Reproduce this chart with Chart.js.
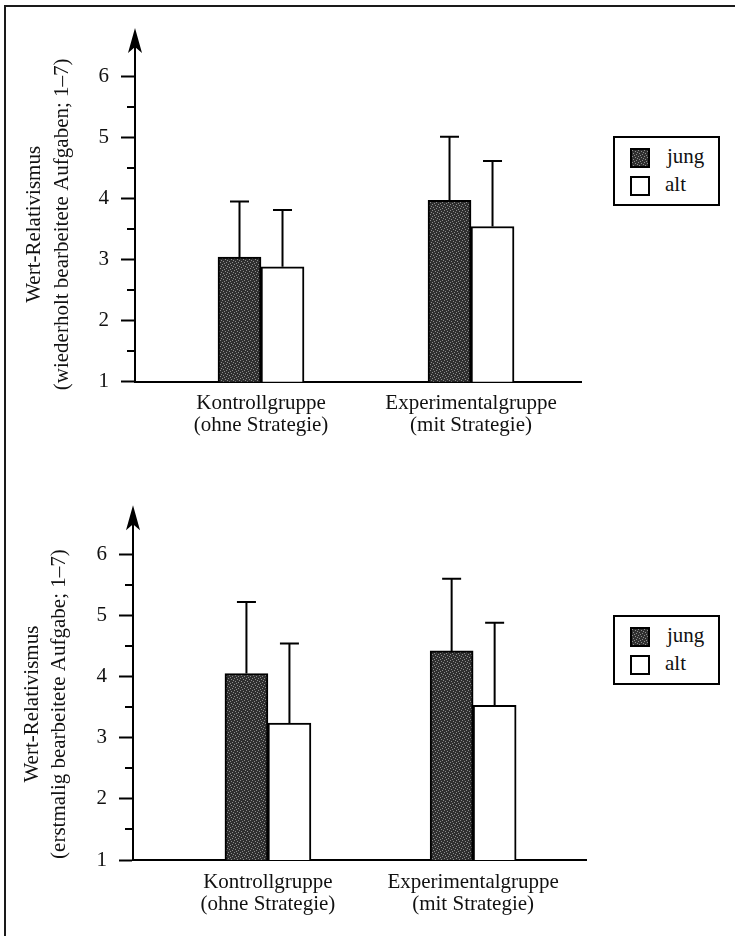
<!DOCTYPE html>
<html>
<head>
<meta charset="utf-8">
<script src="https://cdn.jsdelivr.net/npm/chart.js@4/dist/chart.umd.min.js"></script>
<style>
html,body{margin:0;padding:0;background:#fff;}
body{width:735px;height:936px;position:relative;overflow:hidden;font-family:"Liberation Serif","Times New Roman",serif;color:#111;}
#frame{position:absolute;left:4px;top:5px;width:760px;height:960px;border-left:2px solid #1a1a1a;border-top:2px solid #1a1a1a;}
.wrap{position:absolute;left:0;width:735px;height:468px;}
.wrap canvas{position:absolute;left:0;top:0;}
.legend{position:absolute;width:103px;height:66px;border:2px solid #000;background:#fff;}
.item{position:absolute;left:15px;height:20px;font-size:21px;line-height:20px;white-space:nowrap;}
.sw{position:absolute;left:0;top:0;width:16px;height:16px;border:2px solid #000;background:#fff;}
.lbl{position:absolute;top:-2px;}
</style>
</head>
<body>
<div id="frame"></div>
<div class="wrap" style="top:0px"><canvas id="c1" width="735" height="468"></canvas></div>
<div class="wrap" style="top:468px"><canvas id="c2" width="735" height="468"></canvas></div>
<div class="legend" id="leg1" style="left:613px;top:136px"></div>
<div class="legend" id="leg2" style="left:613px;top:615px"></div>
<script>
// ---------- data ----------
const categories = [["Kontrollgruppe", "(ohne Strategie)"], ["Experimentalgruppe", "(mit Strategie)"]];
const seriesNames = ["jung", "alt"];
const yTicks = [1, 2, 3, 4, 5, 6];
const yMinorTicks = [1.5, 2.5, 3.5, 4.5, 5.5];
const yTickLabels = ["1", "2", "3", "4", "5", "6"];

// Panel oben: wiederholt bearbeitete Aufgaben
const titleA = ["Wert-Relativismus", "(wiederholt bearbeitete Aufgaben; 1–7)"];
const jungA = [3.04, 3.97];
const altA = [2.88, 3.54];
const jungSdA = [0.91, 1.04];
const altSdA = [0.93, 1.07];

// Panel unten: erstmalig bearbeitete Aufgabe
const titleB = ["Wert-Relativismus", "(erstmalig bearbeitete Aufgabe; 1–7)"];
const jungB = [4.05, 4.42];
const altB = [3.24, 3.53];
const jungSdB = [1.17, 1.18];
const altSdB = [1.30, 1.35];

// ---------- styles ----------
function makePatternCanvas() {
  const c = document.createElement('canvas');
  c.width = 6; c.height = 6;
  const g = c.getContext('2d');
  g.fillStyle = '#2f2f2f'; g.fillRect(0, 0, 6, 6);
  g.fillStyle = '#8c8c8c';
  [[0,0],[3,1],[1,3],[4,4],[2,5],[5,2]].forEach(([x,y]) => g.fillRect(x, y, 1, 1));
  return c;
}
const patCanvas = makePatternCanvas();
const FONT = "'Liberation Serif','Times New Roman',serif";

const axisExtrasPlugin = {
  id: 'axisExtras',
  afterDatasetsDraw(chart) {
    const ctx = chart.ctx;
    const ys = chart.scales.y;
    // error bars (upward only)
    chart.data.datasets.forEach((ds, di) => {
      const meta = chart.getDatasetMeta(di);
      meta.data.forEach((el, i) => {
        const v = ds.data[i].y;
        const top = ys.getPixelForValue(v + ds.errors[i]);
        ctx.save();
        ctx.strokeStyle = '#000';
        ctx.lineWidth = 2;
        ctx.beginPath();
        ctx.moveTo(el.x, el.y);
        ctx.lineTo(el.x, top);
        ctx.moveTo(el.x - 9.5, top);
        ctx.lineTo(el.x + 9.5, top);
        ctx.stroke();
        ctx.restore();
      });
    });
  },
  afterDraw(chart, args, opts) {
    const ctx = chart.ctx;
    const ys = chart.scales.y;
    const a = chart.chartArea;
    const x = a.left;
    ctx.save();
    ctx.strokeStyle = '#000';
    ctx.fillStyle = '#000';
    ctx.lineWidth = 2;
    // minor ticks
    yMinorTicks.forEach(v => {
      const py = Math.round(ys.getPixelForValue(v));
      ctx.beginPath();
      ctx.moveTo(x - 8, py);
      ctx.lineTo(x, py);
      ctx.stroke();
    });
    // axis extension + arrow head
    const tip = a.top - opts.arrowLen;
    ctx.beginPath();
    ctx.moveTo(x, a.top + 1);
    ctx.lineTo(x, tip + 12);
    ctx.stroke();
    ctx.beginPath();
    ctx.moveTo(x, tip);
    ctx.lineTo(x + 7, tip + 25);
    ctx.lineTo(x, tip + 19);
    ctx.lineTo(x - 7, tip + 25);
    ctx.closePath();
    ctx.fill();
    ctx.restore();
  }
};

function buildChart(canvasId, p) {
  const ctx = document.getElementById(canvasId).getContext('2d');
  const pattern = ctx.createPattern(patCanvas, 'repeat');
  const mk = (vals) => vals.map((v, i) => ({ x: i + 1, y: v }));
  return new Chart(ctx, {
    type: 'bar',
    data: {
      datasets: [
        { label: seriesNames[0], data: mk(p.jung), errors: p.jungSd,
          backgroundColor: pattern, borderColor: '#000', borderWidth: 2, barThickness: 43 },
        { label: seriesNames[1], data: mk(p.alt), errors: p.altSd,
          backgroundColor: '#ffffff', borderColor: '#000', borderWidth: 2, barThickness: 43 }
      ]
    },
    options: {
      responsive: false,
      animation: false,
      events: [],
      layout: { padding: { top: p.padTop, left: 0, right: p.padRight, bottom: 0 } },
      plugins: {
        legend: { display: false },
        tooltip: { enabled: false },
        axisExtras: { arrowLen: p.arrowLen }
      },
      scales: {
        x: {
          type: 'linear',
          offset: false,
          grace: 0,
          min: p.xMin, max: p.xMax,
          afterBuildTicks: (s) => { s.ticks = categories.map((c, i) => ({ value: i + 1 })); },
          afterFit: (s) => { s.height = p.xHeight; },
          grid: { display: false, drawTicks: false, offset: false },
          border: { display: true, color: '#000', width: 2 },
          ticks: {
            autoSkip: false, maxRotation: 0, minRotation: 0,
            padding: 11,
            color: '#111',
            font: { family: FONT, size: 21, lineHeight: 1.05 },
            callback: (v) => categories[v - 1] || ''
          }
        },
        y: {
          min: 1, max: p.yMax,
          afterBuildTicks: (s) => { s.ticks = yTicks.map(v => ({ value: v })); },
          afterFit: (s) => { s.width = p.yWidth; },
          grid: { drawOnChartArea: false, drawTicks: true, tickLength: 14, tickWidth: 2, tickColor: '#000' },
          border: { display: true, color: '#000', width: 2 },
          ticks: {
            padding: 12,
            color: '#111',
            font: { family: FONT, size: 21 },
            callback: (v) => yTickLabels[yTicks.indexOf(v)]
          },
          title: {
            display: true,
            text: p.title,
            color: '#111',
            font: { family: FONT, size: 21, lineHeight: 1.3 },
            padding: { top: p.titlePad, bottom: 0 }
          }
        }
      }
    },
    plugins: [axisExtrasPlugin]
  });
}

buildChart('c1', {
  jung: jungA, alt: altA, jungSd: jungSdA, altSd: altSdA, title: titleA,
  padTop: 67, padRight: 153.3, xHeight: 86.3, yWidth: 135, yMax: 6.15,
  xMin: 0.4, xMax: 2.527, arrowLen: 39, titlePad: 21.3
});
buildChart('c2', {
  jung: jungB, alt: altB, jungSd: jungSdB, altSd: altSdB, title: titleB,
  padTop: 80.2, padRight: 149, xHeight: 76, yWidth: 133, yMax: 6.1,
  xMin: 0.3424, xMax: 2.55, arrowLen: 43, titlePad: 19
});

// legends (HTML, built from series names)
const patURL = patCanvas.toDataURL();
['leg1', 'leg2'].forEach(id => {
  const leg = document.getElementById(id);
  seriesNames.forEach((name, i) => {
    const it = document.createElement('div');
    it.className = 'item';
    it.style.top = (i === 0 ? 10 : 38) + 'px';
    const sw = document.createElement('div');
    sw.className = 'sw';
    if (i === 0) { sw.style.backgroundImage = 'url(' + patURL + ')'; }
    const lb = document.createElement('span');
    lb.className = 'lbl';
    lb.style.left = (i === 0 ? 37 : 35) + 'px';
    lb.textContent = name;
    it.appendChild(sw); it.appendChild(lb);
    leg.appendChild(it);
  });
});
</script>
</body>
</html>
